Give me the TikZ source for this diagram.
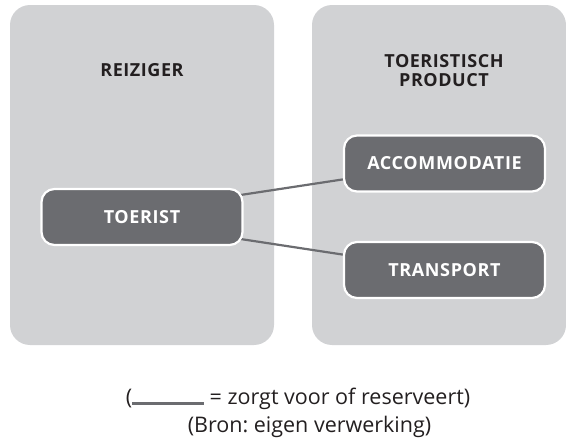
\documentclass[tikz,border=0pt]{standalone}
\usepackage{fontspec}
\setmainfont{Open Sans}
\usepackage{tikz}
\usetikzlibrary{calc,positioning}
\definecolor{paneelgrijs}{HTML}{D1D2D4}
\definecolor{blokgrijs}{HTML}{6B6C70}
\definecolor{tekstzwart}{HTML}{231F20}
\frenchspacing

\begin{document}
\begin{tikzpicture}[x=1pt, y=-1pt,
            paneel/.style={rectangle, fill=paneelgrijs, rounded corners=20pt, inner sep=0pt},
            kop/.style={text=tekstzwart, align=center, font=\fontsize{18}{19}\selectfont\bfseries\addfontfeatures{LetterSpace=3}},
            blok/.style={rectangle, draw=white, line width=2.2pt, fill=blokgrijs, rounded corners=13pt,
            text=white, font=\fontsize{18}{19}\selectfont\bfseries\addfontfeatures{LetterSpace=3.5}, minimum width=201pt, minimum height=56pt, inner sep=0pt},
            verbinding/.style={draw=blokgrijs, line width=2.2pt},
            bron/.style={text=tekstzwart, anchor=base, inner sep=0pt, font=\fontsize{21.5}{24}\selectfont}]
            \useasboundingbox (0,0) rectangle (566,439);
            \node (reiziger) [paneel, minimum width=264pt, minimum height=340pt] at (142,175) {};
            \node (product) [paneel, minimum width=254pt, minimum height=340pt] at (439,175) {};
            \node (reizigerkop) [kop] at (142,70) {REIZIGER};
            \node (productkop) [kop] at (444,71) {TOERISTISCH\\PRODUCT};
            \draw [verbinding] (142,210) -- (444,164);
            \draw [verbinding] (142,224) -- (444,270);
            \node (toerist) [blok] at (142,217) {TOERIST};
            \node (accommodatie) [blok] at (444.5,163.5) {ACCOMMODATIE};
            \node (transport) [blok] at (444.5,270) {TRANSPORT};
            \node (legenda) [bron] at (298,404) {({\color{blokgrijs}\rule[-0.5pt]{72pt}{2.2pt}} = zorgt voor of reserveert)};
            \node (bronregel) [bron] at (309.5,432) {(Bron: eigen verwerking)};
        \end{tikzpicture}
\end{document}
